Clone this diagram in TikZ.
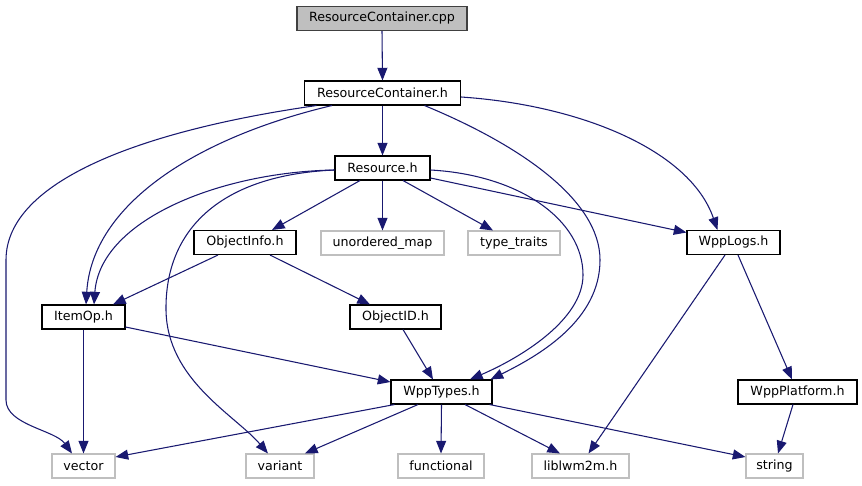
\documentclass[tikz,border=0pt]{standalone}
\usepackage{fontspec}
\setmainfont{DejaVu Sans}
\usetikzlibrary{arrows.meta,calc}
\definecolor{edgecol}{HTML}{191970}
\definecolor{extgray}{HTML}{BFBFBF}
\definecolor{rootborder}{HTML}{404040}
\begin{document}
\begin{tikzpicture}[x=0.75pt,y=-0.75pt,
  box/.style={draw=black,line width=0.8pt,minimum height=18pt,inner sep=0pt,
    font=\fontsize{9.5}{11}\selectfont,fill=white},
  ext/.style={box,draw=extgray},
  root/.style={box,draw=rootborder,fill=extgray},
  edge/.style={draw=edgecol,line width=0.8pt,-{Triangle[length=9.5pt,width=7.5pt]}}]
\useasboundingbox (0,0) rectangle (862,485);
% nodes
\node[root,minimum width=127.5pt] (cpp) at (382,18.5) {ResourceContainer.cpp};
\node[box,minimum width=117pt] (rch) at (382.5,93) {ResourceContainer.h};
\node[box,minimum width=71.25pt] (res) at (382.5,168) {Resource.h};
\node[ext,minimum width=92.25pt] (um) at (382.5,243) {unordered\_map};
\node[ext,minimum width=69pt] (tt) at (514,243) {type\_traits};
\node[box,minimum width=76.5pt] (oi) at (245,242.5) {ObjectInfo.h};
\node[box,minimum width=69.75pt] (wl) at (733.5,242.5) {WppLogs.h};
\node[box,minimum width=62.25pt] (io) at (83.5,317) {ItemOp.h};
\node[box,minimum width=68.25pt] (oid) at (395.5,317) {ObjectID.h};
\node[box,minimum width=75.75pt] (wt) at (441.5,392) {WppTypes.h};
\node[box,minimum width=89.25pt] (wp) at (797.5,392) {WppPlatform.h};
\node[ext,minimum width=47.25pt] (vec) at (83.5,466) {vector};
\node[ext,minimum width=51pt] (var) at (280,466) {variant};
\node[ext,minimum width=64.5pt] (fun) at (441,466) {functional};
\node[ext,minimum width=72.75pt] (lib) at (580.5,466) {liblwm2m.h};
\node[ext,minimum width=42.75pt] (str) at (774.5,466) {string};
% edges
\draw[edge] (cpp.south) -- (rch.north);
\draw[edge] (rch.south) -- (res.north);
\draw[edge] ($(rch.south west)+(28,0)$) .. controls (195,138) and (92,205) .. ($(io.north)+(2.5,0)$);
\draw[edge] ($(rch.south west)+(12.5,0)$) .. controls (145,130) and (6,180) .. (6,260)
   -- (6,400) .. controls (6,425) and (55,430) .. ($(vec.north)+(-11.5,0)$);
\draw[edge] ($(rch.south)+(42,0)$) .. controls (520,145) and (600,200) .. (600,260)
   .. controls (600,320) and (540,355) .. ($(wt.north east)+(-2,0)$);
\draw[edge] ($(rch.east)+(0,4)$) .. controls (580,105) and (690,150) .. ($(wl.north west)+(31,0)$);
\draw[edge] ($(res.south)+(-22.5,0)$) -- ($(oi.north)+(27,0)$);
\draw[edge] (res.south) -- (um.north);
\draw[edge] ($(res.south)+(20.5,0)$) -- ($(tt.north)+(-21,0)$);
\draw[edge] ($(res.east)+(0,10)$) -- ($(wl.west)+(0,-10)$);
\draw[edge] ($(res.east)+(0,2)$) .. controls (520,175) and (583,220) .. (583,275)
   .. controls (583,320) and (520,358) .. ($(wt.north)+(28.5,0)$);
\draw[edge] ($(res.west)+(0,2)$) .. controls (220,172) and (100,220) .. ($(io.north)+(10.5,0)$);
\draw[edge] ($(res.west)+(0,2)$) .. controls (220,175) and (165,230) .. (166,310)
   .. controls (167,380) and (235,415) .. ($(var.north)+(-12,0)$);
\draw[edge] ($(oi.south)+(-27,0)$) -- ($(io.north)+(29.5,0)$);
\draw[edge] ($(oi.south)+(25,0)$) -- ($(oid.north)+(-25.5,0)$);
\draw[edge] (io.south) -- (vec.north);
\draw[edge] ($(io.east)+(0,10)$) -- ($(wt.west)+(0,-10)$);
\draw[edge] ($(oid.south)+(7.5,0)$) -- ($(wt.north)+(-8.5,0)$);
\draw[edge] ($(wt.south west)+(4,0)$) -- ($(vec.east)+(0,-9)$);
\draw[edge] ($(wt.south)+(-23.5,0)$) -- ($(var.north)+(25,0)$);
\draw[edge] (wt.south) -- (fun.north);
\draw[edge] ($(wt.south)+(23.5,0)$) -- ($(lib.north)+(-20.5,0)$);
\draw[edge] ($(wt.south east)+(-3,0)$) -- ($(str.west)+(0,-9)$);
\draw[edge] ($(wl.south)+(-8.5,0)$) -- ($(lib.north)+(8,0)$);
\draw[edge] ($(wl.south)+(4.5,0)$) -- ($(wp.north)+(-5.5,0)$);
\draw[edge] ($(wp.south)+(-4.5,0)$) -- ($(str.north)+(3.5,0)$);
\end{tikzpicture}
\end{document}
